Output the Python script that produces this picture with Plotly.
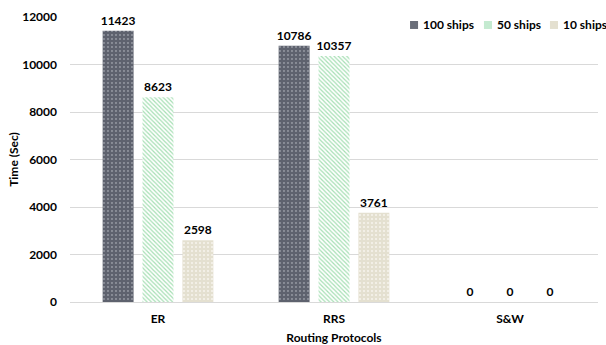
import plotly.graph_objects as go

categories = ["ER", "RRS", "S&W"]
series_names = ["100 ships", "50 ships", "10 ships"]
ships_100 = [11423, 10786, 0]
ships_50 = [8623, 10357, 0]
ships_10 = [2598, 3761, 0]
y_ticks = [0, 2000, 4000, 6000, 8000, 10000, 12000]

font_family = "Lato, 'Open Sans', sans-serif"

styles = [
    dict(bg="#5e626e", fg="#c9ccd3", shape=".", size=4, solidity=0.1, swatch="#6a6e79"),
    dict(bg="#ffffff", fg="#a6dfb4", shape="\\", size=3, solidity=0.4, swatch="#c4ead0"),
    dict(bg="#e4e0d0", fg="#f7f5ee", shape=".", size=4, solidity=0.2, swatch="#e4e0d0"),
]

fig = go.Figure()
for name, vals, st in zip(series_names, [ships_100, ships_50, ships_10], styles):
    fig.add_trace(go.Bar(
        x=categories, y=vals, name=name,
        text=[str(v) for v in vals], textposition="outside",
        texttemplate="<b>%{text}</b>",
        constraintext="none",
        textfont=dict(family=font_family, size=12, color="#000000"),
        cliponaxis=False,
        showlegend=False,
        marker=dict(
            color=st["bg"],
            line=dict(width=0),
            pattern=dict(shape=st["shape"], fgcolor=st["fg"], bgcolor=st["bg"],
                         size=st["size"], solidity=st["solidity"], fillmode="replace"),
        ),
    ))

# Legend drawn as swatch + label (compact, like the original)
legend_x = [0.644, 0.784, 0.909]
for name, st, lx in zip(series_names, styles, legend_x):
    fig.add_shape(type="rect", xref="paper", yref="paper",
                  x0=lx, x1=lx + 0.0152, y0=0.958, y1=0.986,
                  fillcolor=st["swatch"], line=dict(width=0))
    fig.add_annotation(xref="paper", yref="paper", x=lx + 0.021, y=0.972,
                       xanchor="left", yanchor="middle", showarrow=False,
                       text="<b>%s</b>" % name,
                       font=dict(family=font_family, size=12, color="#000000"))

fig.update_layout(
    width=606, height=345,
    margin=dict(l=70, r=8, t=17, b=43, autoexpand=False),
    paper_bgcolor="white", plot_bgcolor="white",
    barmode="group", bargap=0.32, bargroupgap=0.225,
    font=dict(family=font_family, size=12, color="#000000"),
    showlegend=False,
    xaxis=dict(
        automargin=False,
        title=dict(text="<b>Routing Protocols</b>", font=dict(size=12), standoff=13),
        tickfont=dict(size=12), showline=True, linecolor="#d9d9d9", linewidth=1,
        ticks="", tickvals=categories, ticktext=["<b>%s</b>" % c for c in categories],
        ticklabelstandoff=6,
    ),
    yaxis=dict(
        automargin=False,
        title=dict(text="<b>Time (Sec)</b>", font=dict(size=12), standoff=0),
        range=[0, 12000], tickvals=y_ticks,
        ticktext=["<b>%d</b>" % v for v in y_ticks],
        tickfont=dict(size=12), showgrid=True, gridcolor="#d9d9d9", gridwidth=1,
        zeroline=False, ticks="", ticklabelstandoff=12,
    ),
)

fig.write_html("out.html", config={"displayModeBar": False},
               post_script="document.body.style.margin='0';document.body.style.padding='0';")
